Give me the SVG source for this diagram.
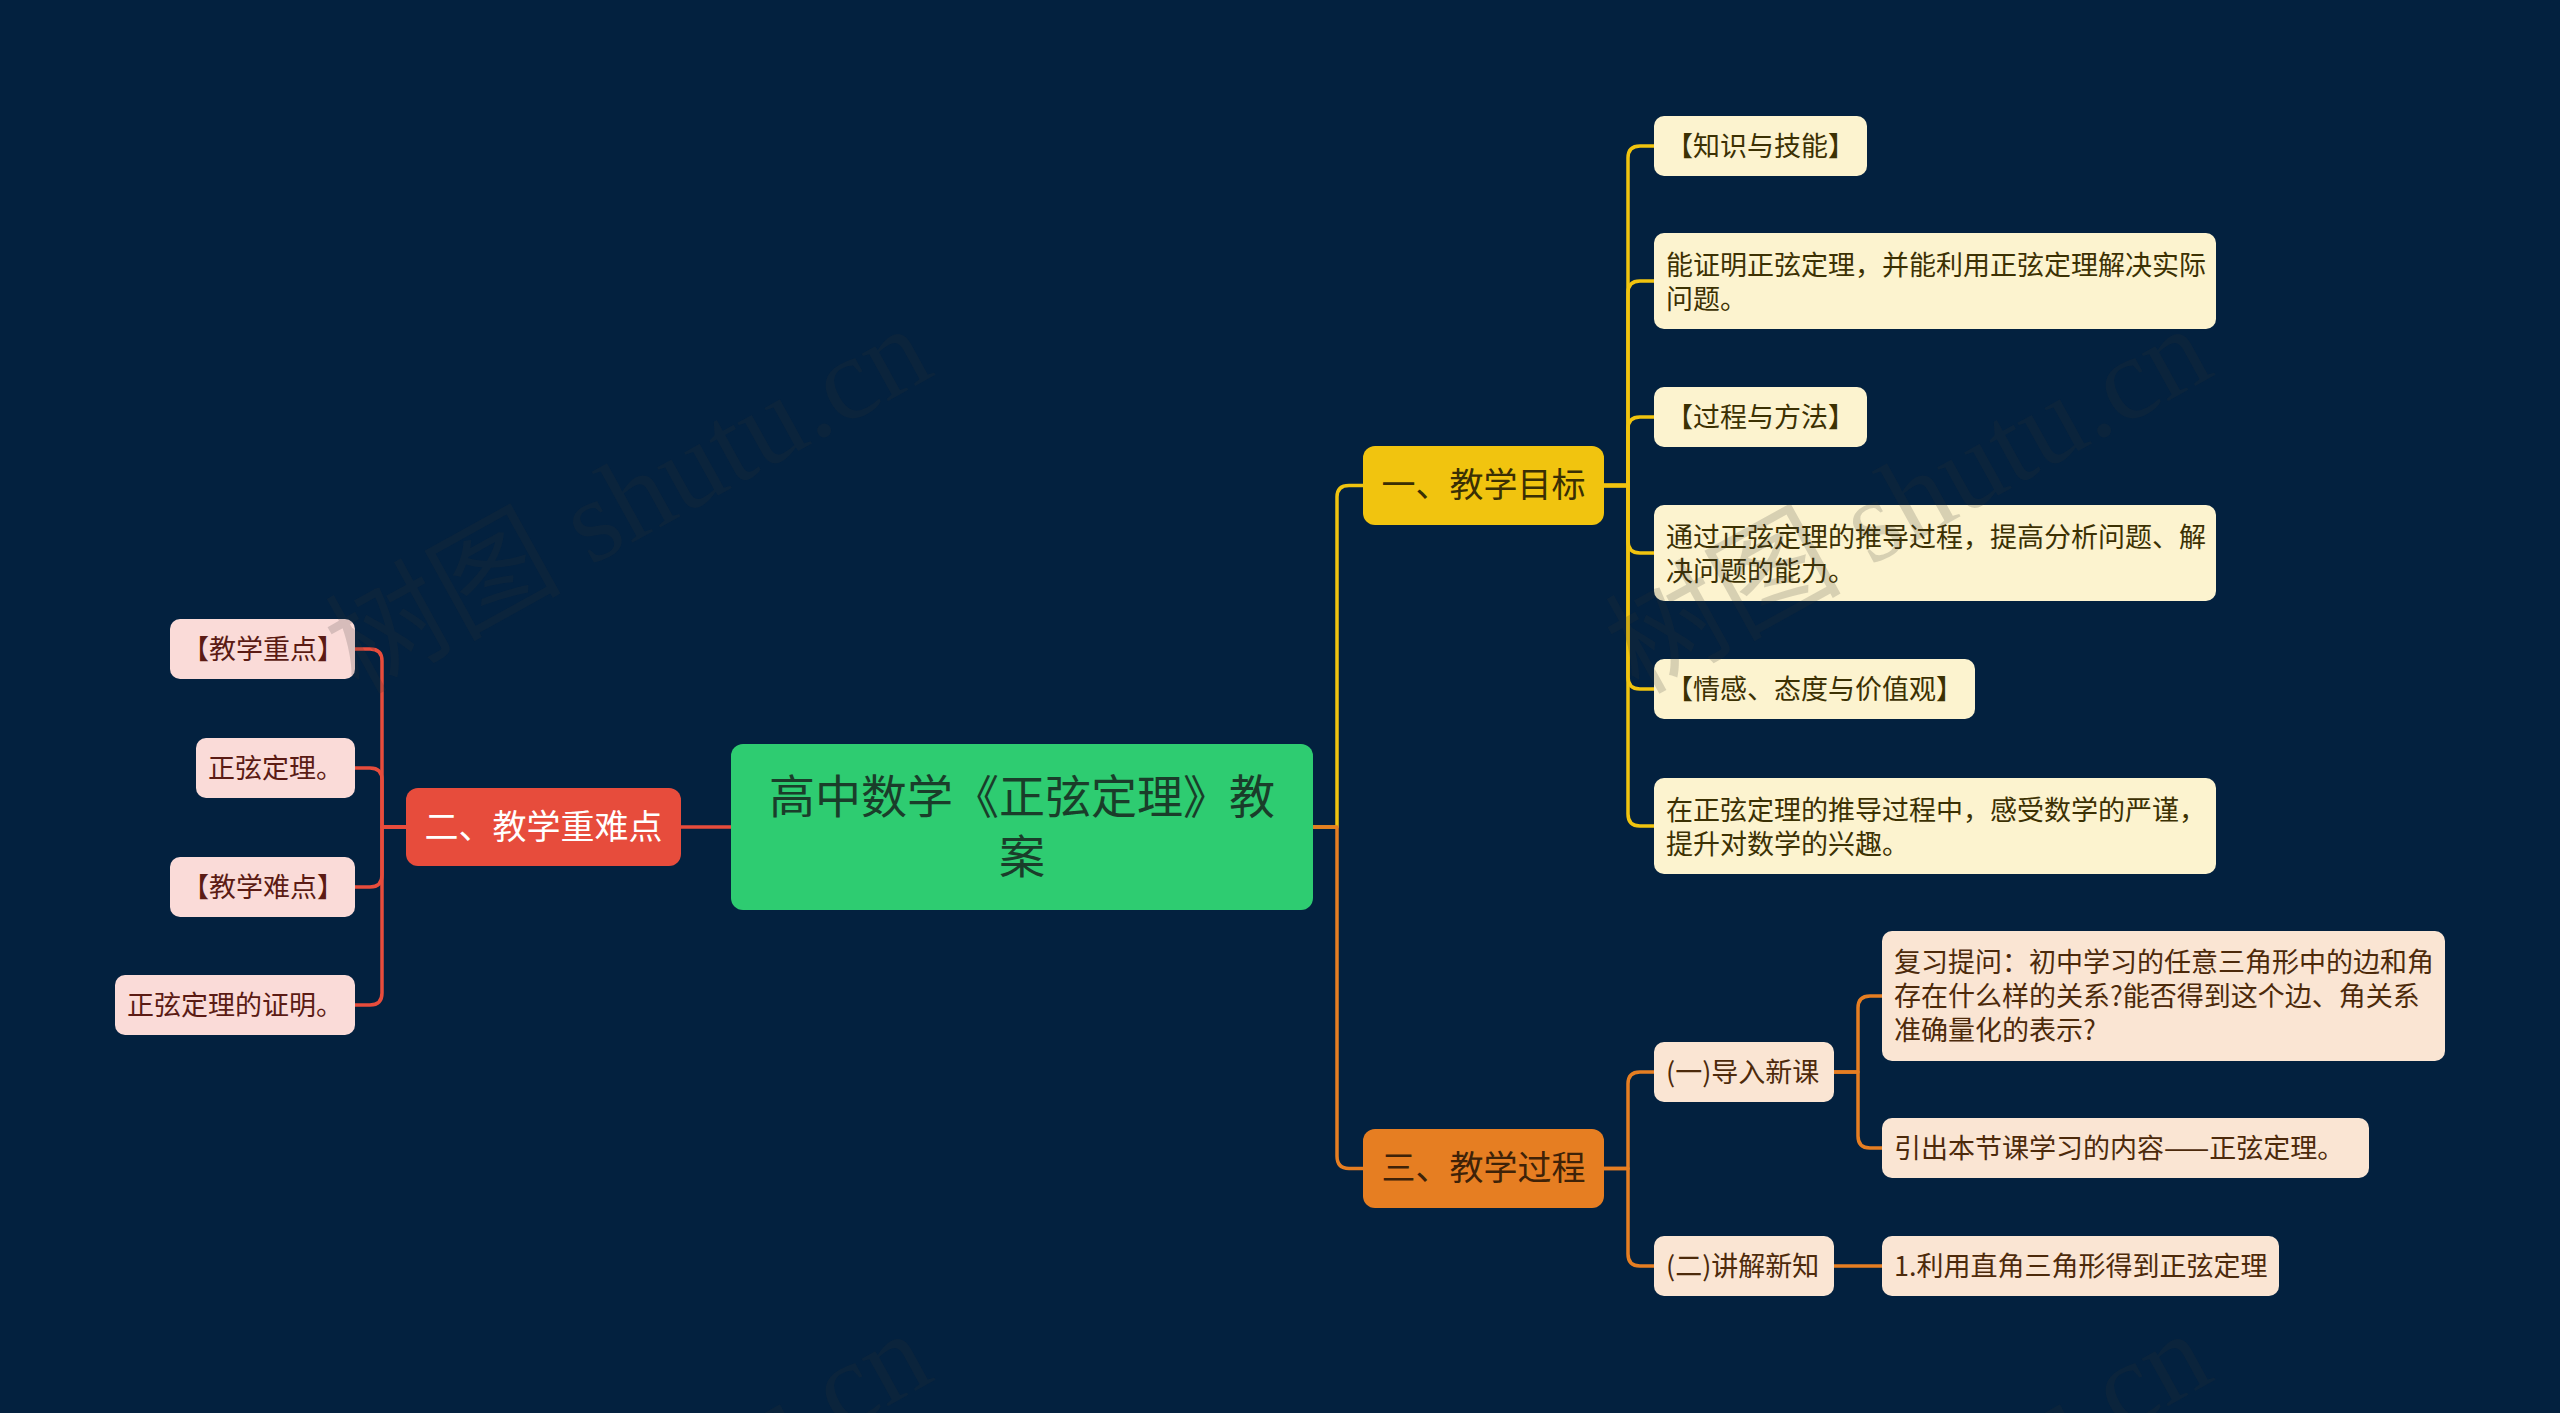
<svg xmlns="http://www.w3.org/2000/svg" width="2560" height="1413" viewBox="0 0 2560 1413">
<style>
text { font-family: "Noto Sans CJK SC", "Noto Sans", sans-serif; }
.c { fill: none; stroke-width: 3.5; stroke-linecap: round; stroke-linejoin: round; }
.cy { stroke: #f1c40f; } .cr { stroke: #e74c3c; } .co { stroke: #e67e22; }
.main text { font-size: 34px; text-anchor: middle; }
.leaf text { font-size: 27px; }
.ly rect { fill: #fcf3cf; } .ly text { fill: #3c3103; }
.lr rect { fill: #fadbd8; } .lr text { fill: #5b1b14; }
.lo rect { fill: #fae5d3; } .lo text { fill: #4d2a0b; }
.wm { font-family: "Liberation Serif", "Noto Sans CJK SC", serif; font-size: 118px; fill: #303030; fill-opacity: 0.18; }
</style>
<rect x="0" y="0" width="2560" height="1413" fill="#03213f"/>

<g id="connectors">
  <path class="c cy" d="M1313 827 H1337 V497 Q1337 485.5 1349 485.5 H1363"/>
  <path class="c co" d="M1313 827 H1337 V1156 Q1337 1168.5 1349 1168.5 H1363"/>
  <path class="c cr" d="M731 827 H681"/>
  <path class="c cy" d="M1604 485.5 H1628 V158 Q1628 146 1640 146 H1654"/>
  <path class="c cy" d="M1604 485.5 H1628 V293 Q1628 281 1640 281 H1654"/>
  <path class="c cy" d="M1604 485.5 H1628 V429 Q1628 417 1640 417 H1654"/>
  <path class="c cy" d="M1604 485.5 H1628 V541 Q1628 553 1640 553 H1654"/>
  <path class="c cy" d="M1604 485.5 H1628 V677 Q1628 689 1640 689 H1654"/>
  <path class="c cy" d="M1604 485.5 H1628 V814 Q1628 826 1640 826 H1654"/>
  <path class="c cr" d="M406 827 H382 V661 Q382 649 370 649 H355"/>
  <path class="c cr" d="M406 827 H382 V780 Q382 768 370 768 H355"/>
  <path class="c cr" d="M406 827 H382 V875 Q382 887 370 887 H355"/>
  <path class="c cr" d="M406 827 H382 V993 Q382 1005 370 1005 H355"/>
  <path class="c co" d="M1604 1168.5 H1628 V1084 Q1628 1072 1640 1072 H1654"/>
  <path class="c co" d="M1604 1168.5 H1628 V1254 Q1628 1266 1640 1266 H1654"/>
  <path class="c co" d="M1834 1072 H1858 V1008 Q1858 996 1870 996 H1882"/>
  <path class="c co" d="M1834 1072 H1858 V1136 Q1858 1148 1870 1148 H1882"/>
  <path class="c co" d="M1834 1266 H1882"/>
</g>

<g id="root">
  <rect x="731" y="744" width="582" height="166" rx="12" fill="#2ecc71"/>
  <text x="1022" y="813" font-size="46" text-anchor="middle" fill="#1a3d2a">高中数学《正弦定理》教</text>
  <text x="1022" y="873" font-size="46" text-anchor="middle" fill="#1a3d2a">案</text>
</g>

<g id="goal" class="main">
  <rect x="1363" y="446" width="241" height="79" rx="12" fill="#f1c40f"/>
  <text x="1483.5" y="497" fill="#3a2f04">一、教学目标</text>
</g>
<g id="key" class="main">
  <rect x="406" y="788" width="275" height="78" rx="12" fill="#e74c3c"/>
  <text x="543.5" y="839" fill="#ffffff">二、教学重难点</text>
</g>
<g id="process" class="main">
  <rect x="1363" y="1129" width="241" height="79" rx="12" fill="#e67e22"/>
  <text x="1483.5" y="1180" fill="#3e2208">三、教学过程</text>
</g>

<g id="y1" class="leaf ly"><rect x="1654" y="116" width="213" height="60" rx="10"/><text x="1666" y="156">【知识与技能】</text></g>
<g id="y2" class="leaf ly"><rect x="1654" y="233" width="562" height="96" rx="10"/><text x="1666" y="275">能证明正弦定理，并能利用正弦定理解决实际</text><text x="1666" y="309">问题。</text></g>
<g id="y3" class="leaf ly"><rect x="1654" y="387" width="213" height="60" rx="10"/><text x="1666" y="427">【过程与方法】</text></g>
<g id="y4" class="leaf ly"><rect x="1654" y="505" width="562" height="96" rx="10"/><text x="1666" y="547">通过正弦定理的推导过程，提高分析问题、解</text><text x="1666" y="581">决问题的能力。</text></g>
<g id="y5" class="leaf ly"><rect x="1654" y="659" width="321" height="60" rx="10"/><text x="1666" y="699">【情感、态度与价值观】</text></g>
<g id="y6" class="leaf ly"><rect x="1654" y="778" width="562" height="96" rx="10"/><text x="1666" y="820">在正弦定理的推导过程中，感受数学的严谨，</text><text x="1666" y="854">提升对数学的兴趣。</text></g>

<g id="r1" class="leaf lr"><rect x="170" y="619" width="185" height="60" rx="10"/><text x="182" y="659">【教学重点】</text></g>
<g id="r2" class="leaf lr"><rect x="196" y="738" width="159" height="60" rx="10"/><text x="208" y="778">正弦定理。</text></g>
<g id="r3" class="leaf lr"><rect x="170" y="857" width="185" height="60" rx="10"/><text x="182" y="897">【教学难点】</text></g>
<g id="r4" class="leaf lr"><rect x="115" y="975" width="240" height="60" rx="10"/><text x="127" y="1015">正弦定理的证明。</text></g>

<g id="o1" class="leaf lo"><rect x="1654" y="1042" width="180" height="60" rx="10"/><text x="1666" y="1082">(一)导入新课</text></g>
<g id="o2" class="leaf lo"><rect x="1654" y="1236" width="180" height="60" rx="10"/><text x="1666" y="1276">(二)讲解新知</text></g>
<g id="g1" class="leaf lo"><rect x="1882" y="931" width="563" height="130" rx="10"/><text x="1894" y="972">复习提问：初中学习的任意三角形中的边和角</text><text x="1894" y="1006">存在什么样的关系?能否得到这个边、角关系</text><text x="1894" y="1040">准确量化的表示?</text></g>
<g id="g2" class="leaf lo"><rect x="1882" y="1118" width="487" height="60" rx="10"/><text x="1894" y="1158">引出本节课学习的内容——正弦定理。</text></g>
<g id="g3" class="leaf lo"><rect x="1882" y="1236" width="397" height="60" rx="10"/><text x="1894" y="1276">1.利用直角三角形得到正弦定理</text></g>

<g id="watermark">
  <text class="wm" transform="translate(358 695) rotate(-29)">树图 shutu.cn</text>
  <text class="wm" transform="translate(1638 695) rotate(-29)">树图 shutu.cn</text>
  <text class="wm" transform="translate(358 1700) rotate(-29)">树图 shutu.cn</text>
  <text class="wm" transform="translate(1638 1700) rotate(-29)">树图 shutu.cn</text>
</g>
</svg>
